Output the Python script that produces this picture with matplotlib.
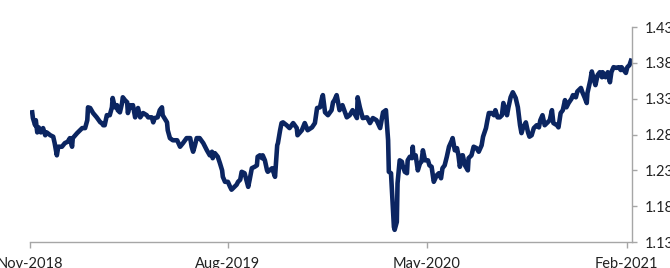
#!/usr/bin/env python3
"""
GBP/USD daily rate, Nov-2018 to Feb-2021
"""

import matplotlib
matplotlib.use("Agg")
import matplotlib.pyplot as plt
import matplotlib.dates as mdates
import pandas as pd

START = "2018-11-01"

# days after START
days = [3, 4, 7, 8, 10, 12, 15, 18, 21, 23, 28, 32, 34, 37, 39, 44, 48, 52, 55, 58,
        59, 65, 69, 72, 76, 79, 80, 83, 87, 92, 97, 99, 101, 103, 106, 110, 113, 114, 117, 120,
        121, 124, 127, 128, 131, 134, 135, 138, 141, 142, 145, 148, 149, 152, 156, 161, 163, 168, 170, 172,
        176, 179, 182, 183, 189, 190, 193, 197, 203, 207, 211, 216, 221, 223, 225, 227, 230, 234, 239, 244,
        248, 251, 252, 255, 259, 262, 265, 266, 269, 273, 276, 278, 280, 285, 287, 290, 292, 296, 301, 303,
        306, 310, 313, 314, 317, 320, 321, 324, 327, 328, 334, 338, 341, 342, 345, 347, 349, 354, 358, 363,
        368, 369, 375, 379, 383, 389, 393, 396, 400, 403, 404, 407, 411, 416, 418, 420, 423, 427, 431, 437,
        441, 445, 451, 452, 455, 459, 465, 469, 473, 478, 483, 485, 487, 491, 494, 495, 498, 500, 502, 503,
        506, 507, 510, 513, 514, 517, 520, 521, 524, 527, 528, 529, 532, 535, 538, 540, 542, 545, 549, 551,
        554, 557, 561, 564, 567, 569, 572, 575, 578, 582, 583, 586, 589, 591, 593, 596, 597, 600, 604, 605,
        609, 612, 616, 619, 623, 625, 629, 631, 633, 637, 640, 642, 645, 648, 651, 653, 658, 660, 663, 666,
        670, 673, 676, 678, 680, 684, 687, 689, 692, 695, 699, 702, 704, 707, 710, 714, 717, 720, 722, 727,
        729, 732, 735, 738, 740, 743, 747, 749, 753, 755, 760, 762, 765, 768, 769, 773, 775, 778, 780, 783,
        786, 789, 790, 794, 797, 800, 802, 805, 809, 812, 815, 816, 819, 822, 824, 827, 829]

rate = [1.311, 1.303, 1.293, 1.300, 1.283, 1.290, 1.283, 1.289, 1.279, 1.283, 1.279, 1.277, 1.268, 1.251, 1.263, 1.263, 1.268, 1.270, 1.275, 1.263,
        1.275, 1.282, 1.286, 1.289, 1.289, 1.300, 1.318, 1.317, 1.310, 1.304, 1.297, 1.296, 1.293, 1.293, 1.307, 1.307, 1.318, 1.331, 1.318, 1.321,
        1.314, 1.311, 1.324, 1.332, 1.328, 1.325, 1.310, 1.321, 1.318, 1.321, 1.304, 1.314, 1.317, 1.304, 1.310, 1.307, 1.304, 1.304, 1.297, 1.303,
        1.304, 1.314, 1.318, 1.307, 1.297, 1.286, 1.275, 1.272, 1.272, 1.263, 1.268, 1.275, 1.275, 1.263, 1.256, 1.263, 1.275, 1.275, 1.268, 1.258,
        1.251, 1.256, 1.247, 1.254, 1.249, 1.240, 1.230, 1.221, 1.214, 1.214, 1.207, 1.203, 1.205, 1.210, 1.214, 1.217, 1.228, 1.226, 1.207, 1.217,
        1.233, 1.235, 1.237, 1.249, 1.251, 1.247, 1.251, 1.244, 1.230, 1.228, 1.233, 1.221, 1.265, 1.268, 1.286, 1.296, 1.297, 1.293, 1.289, 1.296,
        1.289, 1.279, 1.286, 1.296, 1.286, 1.290, 1.296, 1.317, 1.318, 1.332, 1.335, 1.311, 1.307, 1.314, 1.325, 1.328, 1.335, 1.314, 1.321, 1.304,
        1.307, 1.314, 1.303, 1.332, 1.318, 1.303, 1.304, 1.296, 1.303, 1.300, 1.289, 1.300, 1.311, 1.314, 1.272, 1.228, 1.226, 1.189, 1.151, 1.147,
        1.158, 1.212, 1.244, 1.242, 1.237, 1.228, 1.226, 1.244, 1.249, 1.247, 1.263, 1.249, 1.251, 1.230, 1.240, 1.242, 1.258, 1.244, 1.244, 1.237,
        1.235, 1.214, 1.223, 1.226, 1.219, 1.233, 1.237, 1.249, 1.263, 1.272, 1.275, 1.258, 1.261, 1.251, 1.235, 1.251, 1.251, 1.237, 1.230, 1.247,
        1.251, 1.263, 1.261, 1.256, 1.265, 1.277, 1.289, 1.300, 1.310, 1.310, 1.307, 1.314, 1.304, 1.304, 1.307, 1.324, 1.307, 1.318, 1.332, 1.339,
        1.331, 1.318, 1.293, 1.282, 1.289, 1.297, 1.283, 1.277, 1.279, 1.289, 1.293, 1.290, 1.300, 1.307, 1.293, 1.297, 1.300, 1.314, 1.296, 1.293,
        1.290, 1.310, 1.314, 1.328, 1.318, 1.324, 1.330, 1.335, 1.332, 1.340, 1.345, 1.339, 1.332, 1.324, 1.338, 1.356, 1.368, 1.356, 1.349, 1.363,
        1.367, 1.360, 1.367, 1.360, 1.367, 1.353, 1.367, 1.374, 1.373, 1.374, 1.370, 1.374, 1.370, 1.366, 1.374, 1.377, 1.383]

tick_dates = ["2018-11-01", "2019-08-01", "2020-05-01", "2021-02-01"]
y_ticks = [1.13, 1.18, 1.23, 1.28, 1.33, 1.38, 1.43]

dates = pd.Timestamp(START) + pd.to_timedelta(days, unit="D")

plt.rcParams["font.family"] = ["Lato", "DejaVu Sans"]

fig = plt.figure(figsize=(6.7, 2.68), dpi=100)
ax = fig.add_axes([0.0448, 0.097, 0.898, 0.802])

ax.plot(dates, rate, color="#0b2561", linewidth=3.3, solid_joinstyle="round")

grey = "#a6a6a6"
ax.set_xlim(pd.Timestamp(START), pd.Timestamp(START) + pd.Timedelta(days=830))
ax.set_ylim(1.13, 1.43)

ax.yaxis.tick_right()
ax.set_yticks(y_ticks)
ax.set_yticklabels([f"{v:.2f}" for v in y_ticks])
ax.set_xticks(pd.to_datetime(tick_dates))
ax.xaxis.set_major_formatter(mdates.DateFormatter("%b-%Y"))

for side in ["top", "left"]:
    ax.spines[side].set_visible(False)
for side in ["bottom", "right"]:
    ax.spines[side].set_color(grey)
    ax.spines[side].set_linewidth(1.0)

ax.tick_params(axis="y", direction="out", length=3.5, width=1.0, color=grey,
               pad=6, labelsize=10.5, labelcolor="#222222")
ax.tick_params(axis="x", direction="out", length=4, width=1.0, color=grey,
               pad=7, labelsize=10.5, labelcolor="#222222")

fig.savefig("out.png", dpi=100)
